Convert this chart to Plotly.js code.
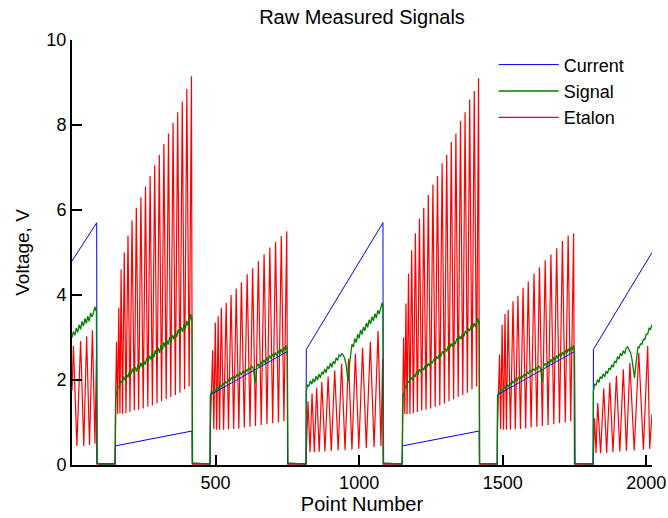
<!DOCTYPE html>
<html>
<head>
<meta charset="utf-8">
<script src="https://cdn.plot.ly/plotly-3.0.1.min.js"></script>
<style>html,body{margin:0;padding:0;background:#fff;}</style>
</head>
<body>
<div id="chart" style="width:668px;height:518px;"></div>
<script>
// Series names and tick values
var seriesNames = ["Current", "Signal", "Etalon"];
var xTickVals = [500, 1000, 1500, 2000];
var yTickVals = [0, 2, 4, 6, 8, 10];

// Current (blue): [point, volts]
var currentPts = [
  [0,4.8],[86,5.7],[87,0.03],[150,0.03],[151,0.45],[418,0.8],[419,0.03],
  [481,0.03],[482,1.65],[750,2.67],[751,0.03],[815,0.03],[816,2.72],[1083,5.7],[1084,0.03],
  [1150,0.03],[1151,0.45],[1418,0.8],[1419,0.03],[1481,0.03],[1482,1.65],[1750,2.67],[1751,0.03],
  [1815,0.03],[1816,2.72],[2020,5.0]
];

// Signal (green): [point, volts]
var signalPts = [
  [0,3.0],[5,3.14],[10,3.05],[15,3.22],[20,3.12],[25,3.3],[30,3.19],[35,3.38],[40,3.27],[45,3.45],[50,3.33],
  [55,3.5],[60,3.38],[65,3.58],[70,3.48],[75,3.64],[80,3.72],[83,3.63],[85,3.7],[87,0.05],[100,0.02],[150,0.02],
  [151,1.4],[153,1.62],[156,1.7],[160,1.84],[165,1.85],[170,1.97],[175,1.94],[180,2.08],[185,1.99],[190,2.14],
  [195,2.06],[200,2.21],[205,2.12],[210,2.27],[215,2.17],[220,2.31],[225,2.2],[230,2.36],[235,2.26],[240,2.41],
  [245,2.3],[250,2.45],[255,2.36],[260,2.52],[265,2.41],[270,2.58],[275,2.48],[280,2.64],[285,2.53],[290,2.7],
  [295,2.58],[300,2.76],[305,2.64],[310,2.82],[315,2.71],[320,2.89],[325,2.76],[330,2.94],[335,2.83],[340,3.01],
  [345,2.89],[350,3.06],[355,2.96],[360,3.12],[365,3.01],[370,3.19],[375,3.08],[380,3.24],[385,3.13],[390,3.31],
  [395,3.21],[400,3.39],[405,3.26],[410,3.48],[413,3.55],[416,3.4],[418,3.5],[420,0.05],[481,0.02],
  [482,1.62],[485,1.72],[490,1.7],[495,1.78],[500,1.74],[505,1.83],[510,1.79],[515,1.88],[520,1.83],[525,1.93],
  [530,1.88],[535,1.97],[540,1.92],[545,2.02],[550,1.97],[555,2.06],[560,2.01],[565,2.1],[570,2.05],[575,2.14],
  [580,2.09],[585,2.18],[590,2.12],[595,2.21],[600,2.16],[605,2.26],[610,2.2],[615,2.28],[620,2.24],[625,2.33],
  [630,2.3],[634,2.15],[637,1.92],[640,2.05],[643,2.32],[648,2.38],[653,2.3],[658,2.43],[663,2.36],[668,2.48],
  [673,2.4],[678,2.53],[683,2.45],[688,2.58],[693,2.5],[698,2.61],[703,2.54],[708,2.65],[713,2.57],[718,2.69],
  [723,2.6],[728,2.73],[733,2.64],[738,2.78],[743,2.7],[746,2.82],[750,2.7],[752,0.05],[815,0.02],
  [816,1.75],[820,1.88],[825,1.86],[830,1.98],[835,1.9],[840,2.03],[845,1.95],[850,2.09],[855,2.0],[860,2.14],
  [865,2.05],[870,2.19],[875,2.13],[880,2.26],[885,2.17],[890,2.32],[895,2.26],[900,2.4],[905,2.3],[910,2.44],
  [915,2.38],[920,2.52],[925,2.46],[930,2.59],[935,2.56],[940,2.62],[945,2.58],[950,2.5],[955,2.35],[960,2.05],
  [963,1.98],[967,2.4],[971,2.72],[975,2.84],[980,2.78],[985,2.98],[990,2.88],[995,3.08],[1000,2.98],[1005,3.18],
  [1010,3.07],[1015,3.25],[1020,3.16],[1025,3.34],[1030,3.24],[1035,3.42],[1040,3.32],[1045,3.49],[1050,3.39],
  [1055,3.56],[1060,3.46],[1065,3.64],[1070,3.55],[1075,3.72],[1080,3.82],[1083,3.74],[1085,0.05],[1150,0.02],
  [1151,1.38],[1153,1.6],[1156,1.68],[1160,1.85],[1165,1.83],[1170,1.98],[1175,1.93],[1180,2.07],[1185,2.0],
  [1190,2.13],[1195,2.07],[1200,2.2],[1205,2.13],[1210,2.26],[1215,2.18],[1220,2.3],[1225,2.23],[1230,2.35],
  [1235,2.28],[1240,2.39],[1245,2.33],[1250,2.44],[1255,2.39],[1260,2.5],[1265,2.44],[1270,2.56],[1275,2.5],
  [1280,2.62],[1285,2.55],[1290,2.68],[1295,2.61],[1300,2.74],[1305,2.67],[1310,2.8],[1315,2.72],[1320,2.86],
  [1325,2.78],[1330,2.92],[1335,2.84],[1340,2.98],[1345,2.9],[1350,3.04],[1355,2.96],[1360,3.1],[1365,3.02],
  [1370,3.16],[1375,3.08],[1380,3.21],[1385,3.15],[1390,3.28],[1395,3.2],[1400,3.34],[1405,3.25],[1410,3.4],
  [1413,3.46],[1416,3.33],[1418,3.4],[1420,0.04],[1481,0.02],
  [1482,1.6],[1485,1.7],[1490,1.71],[1495,1.77],[1500,1.75],[1505,1.84],[1510,1.8],[1515,1.89],[1520,1.84],
  [1525,1.93],[1530,1.89],[1535,1.97],[1540,1.93],[1545,2.02],[1550,1.98],[1555,2.07],[1560,2.02],[1565,2.1],
  [1570,2.06],[1575,2.15],[1580,2.1],[1585,2.19],[1590,2.14],[1595,2.23],[1600,2.18],[1605,2.27],[1610,2.22],
  [1615,2.3],[1620,2.26],[1625,2.33],[1630,2.3],[1634,2.18],[1637,1.93],[1640,2.08],[1643,2.34],[1648,2.39],
  [1653,2.32],[1658,2.44],[1663,2.37],[1668,2.49],[1673,2.41],[1678,2.54],[1683,2.46],[1688,2.58],[1693,2.5],
  [1698,2.62],[1703,2.55],[1708,2.66],[1713,2.58],[1718,2.7],[1723,2.62],[1728,2.74],[1733,2.65],[1738,2.78],
  [1743,2.7],[1746,2.82],[1750,2.72],[1752,0.04],[1815,0.02],
  [1816,1.73],[1820,1.9],[1825,1.88],[1830,2.01],[1835,1.94],[1840,2.08],[1845,2.03],[1850,2.15],[1855,2.07],
  [1860,2.21],[1865,2.15],[1870,2.28],[1875,2.24],[1880,2.36],[1885,2.3],[1890,2.45],[1895,2.4],[1900,2.55],
  [1905,2.49],[1910,2.63],[1915,2.57],[1920,2.69],[1925,2.62],[1930,2.75],[1935,2.78],[1940,2.7],[1945,2.65],
  [1950,2.5],[1955,2.25],[1959,2.05],[1963,2.3],[1967,2.62],[1971,2.78],[1975,2.76],[1980,2.85],[1985,2.84],
  [1990,2.96],[1995,2.95],[2000,3.08],[2005,3.08],[2010,3.22],[2015,3.2],[2020,3.3]
];

// Etalon (red): fringe peaks and troughs [point, volts]
var etalonPts = [
  [0,1.75],[5,2.8],[17,0.45],[30,2.92],[41,0.45],[51,3.03],[61,0.47],[71,3.17],[80,0.5],[85,2.5],[87,0.02],[150,0.02],
  [151,1.25],[155,2.9],[159,1.2],[163,3.7],[167,1.22],[171,4.6],[176,1.2],[182,5.0],[188,1.22],[195,5.4],[202,1.25],
  [209,5.75],[217,1.28],[224,6.05],[232,1.3],[240,6.3],[248,1.33],[256,6.55],[264,1.37],[272,6.8],[280,1.4],
  [288,7.05],[296,1.45],[304,7.3],[312,1.5],[320,7.55],[328,1.55],[336,7.8],[344,1.6],[352,8.05],[360,1.65],
  [368,8.3],[376,1.7],[384,8.55],[392,1.78],[400,8.85],[408,1.85],[416,9.15],[419,0.02],[481,0.02],
  [482,0.9],[490,2.7],[494,0.85],[499,3.35],[504,0.83],[509,3.5],[514,0.83],[520,3.7],[528,0.83],[537,3.82],
  [545,0.84],[554,4.0],[563,0.85],[572,4.15],[581,0.86],[590,4.3],[600,0.88],[610,4.49],[620,0.9],[629,4.63],
  [639,0.92],[649,4.8],[659,0.94],[669,4.96],[679,0.96],[689,5.12],[699,0.98],[709,5.25],[719,1.0],[729,5.39],
  [738,1.03],[748,5.5],[751,0.02],[815,0.02],
  [816,0.3],[822,1.5],[829,0.3],[836,1.68],[844,0.3],[852,1.82],[861,0.31],[870,1.95],[881,0.32],[892,2.08],
  [903,0.33],[915,2.22],[927,0.34],[939,2.38],[951,0.35],[963,2.5],[975,0.36],[987,2.62],[999,0.38],[1012,2.75],
  [1025,0.4],[1039,2.9],[1052,0.42],[1066,3.15],[1076,0.45],[1082,2.5],[1084,0.02],[1150,0.02],
  [1151,1.25],[1155,3.0],[1159,1.2],[1163,3.8],[1167,1.2],[1172,4.5],[1177,1.2],[1183,5.05],[1189,1.22],
  [1196,5.45],[1203,1.25],[1210,5.8],[1218,1.28],[1225,6.05],[1233,1.3],[1241,6.35],[1249,1.33],[1257,6.6],
  [1265,1.37],[1273,6.8],[1281,1.4],[1289,7.1],[1297,1.45],[1305,7.3],[1313,1.5],[1321,7.6],[1329,1.55],
  [1337,7.8],[1345,1.6],[1353,8.1],[1361,1.65],[1369,8.3],[1377,1.7],[1385,8.6],[1393,1.78],[1401,8.8],
  [1409,1.85],[1416,9.1],[1419,0.02],[1481,0.02],
  [1482,0.9],[1489,2.6],[1493,0.85],[1498,3.3],[1503,0.83],[1508,3.55],[1513,0.83],[1519,3.65],[1527,0.83],
  [1536,3.85],[1544,0.84],[1553,3.98],[1562,0.85],[1571,4.17],[1580,0.86],[1589,4.32],[1599,0.88],[1609,4.5],
  [1619,0.9],[1628,4.65],[1638,0.92],[1648,4.82],[1658,0.94],[1668,4.95],[1678,0.96],[1688,5.1],[1698,0.98],
  [1708,5.27],[1718,1.0],[1728,5.4],[1737,1.03],[1747,5.45],[1750,0.02],[1815,0.02],
  [1816,0.3],[1820,1.1],[1825,0.28],[1831,1.46],[1841,0.28],[1852,1.8],[1862,0.29],[1873,1.94],[1884,0.3],
  [1896,2.1],[1908,0.32],[1920,2.25],[1931,0.33],[1943,2.4],[1958,0.34],[1974,2.64],[1990,0.36],[2005,2.8],
  [2012,0.38],[2020,1.2]
];

function col(arr, i) { return arr.map(function (p) { return p[i]; }); }

var traces = [
  {x: col(etalonPts,0), y: col(etalonPts,1), name: seriesNames[2], type: 'scatter', mode: 'lines',
   line: {color: '#ff0000', width: 1.2}, legendrank: 3},
  {x: col(currentPts,0), y: col(currentPts,1), name: seriesNames[0], type: 'scatter', mode: 'lines',
   line: {color: '#0000ff', width: 1}, legendrank: 1},
  {x: col(signalPts,0), y: col(signalPts,1), name: seriesNames[1], type: 'scatter', mode: 'lines',
   line: {color: '#008000', width: 1.3}, legendrank: 2}
];

var fontFam = 'Liberation Sans, Arial, sans-serif';
var layout = {
  width: 668, height: 518,
  margin: {l: 72, r: 16, t: 40, b: 53, pad: 0},
  paper_bgcolor: '#ffffff', plot_bgcolor: '#ffffff',
  font: {family: fontFam, size: 19, color: '#000'},
  title: {text: 'Raw Measured Signals', font: {family: fontFam, size: 20, color: '#000'},
          x: 0.5, xref: 'paper', y: 0.967, yref: 'container', xanchor: 'center', yanchor: 'middle'},
  showlegend: true,
  legend: {x: 0.727, y: 0.985, xanchor: 'left', yanchor: 'top', bgcolor: 'rgba(0,0,0,0)',
           font: {family: fontFam, size: 18, color: '#000'}, itemwidth: 60, tracegroupgap: 0},
  xaxis: {range: [0, 2020], tickvals: xTickVals, ticktext: xTickVals.map(String),
          ticks: 'inside', ticklen: 10, tickwidth: 2, tickcolor: '#000',
          showline: true, linewidth: 2, linecolor: '#000', mirror: false,
          showgrid: false, zeroline: false, tickfont: {size: 18},
          title: {text: 'Point Number', font: {size: 20}, standoff: 5}},
  yaxis: {range: [0, 10], tickvals: yTickVals, ticktext: yTickVals.map(String),
          ticks: 'inside', ticklen: 10, tickwidth: 2, tickcolor: '#000',
          showline: true, linewidth: 2, linecolor: '#000',
          showgrid: false, zeroline: false, tickfont: {size: 18},
          title: {text: 'Voltage, V', font: {size: 19}, standoff: 12}}
};

Plotly.newPlot('chart', traces, layout, {displayModeBar: false, staticPlot: true});
</script>
</body>
</html>
